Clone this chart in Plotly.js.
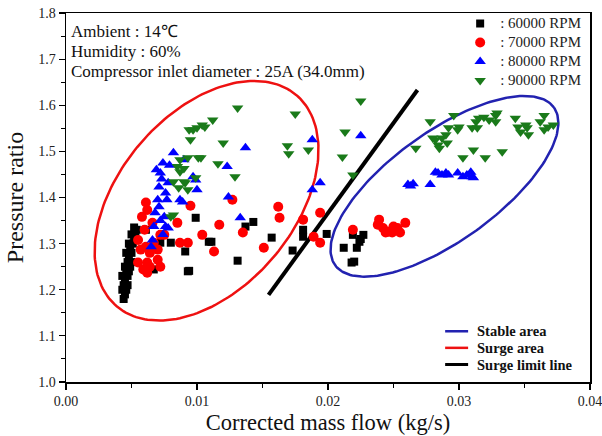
<!DOCTYPE html>
<html><head><meta charset="utf-8">
<script src="https://cdn.plot.ly/plotly-3.0.1.min.js"></script>
<style>body{margin:0;background:#fff}#chart{width:602px;height:436px}</style>
</head><body><div id="chart"></div>
<script>
// ---- data ----
const rpm60X = [0.0044,0.0045,0.0043,0.0046,0.0044,0.0047,0.0045,0.0043,0.0047,0.0046,0.0048,0.0045,0.0049,0.0047,0.0050,0.0048,0.0046,0.0050,0.0049,0.0051,0.0048,0.0052,0.0050,0.0053,0.0054,0.0052,0.0061,
  0.0072,0.0080,0.0091,0.0093,0.0067,0.0099,0.0109,0.0094,0.0111,0.0131,0.0137,0.0143,0.0157,0.0173,0.0181,0.0181,0.0199,
  0.0212,0.0219,0.0227,0.0224,0.0222,0.0220,0.0218,0.0225];
const rpm60Y = [1.18,1.19,1.20,1.20,1.21,1.21,1.22,1.23,1.23,1.24,1.24,1.25,1.25,1.26,1.26,1.27,1.28,1.28,1.29,1.30,1.30,1.31,1.32,1.32,1.33,1.335,1.33,
  1.302,1.302,1.283,1.240,1.244,1.356,1.304,1.241,1.304,1.263,1.337,1.347,1.313,1.285,1.330,1.315,1.321,
  1.291,1.319,1.319,1.304,1.291,1.261,1.259,1.310];
const rpm70X = [0.0061,0.0058,0.0062,0.0055,0.0057,0.0055,0.0059,0.0062,0.0064,0.0070,0.0070,0.0064,0.0072,0.0075,0.0067,0.0061,0.0062,0.0072,0.0060,0.0066,
  0.0085,0.0095,0.0087,0.0093,0.0104,0.0113,0.0117,0.0127,0.0135,0.0151,0.0162,0.0163,0.0181,0.0194,0.0189,0.0194,
  0.0219,0.0239,0.0238,0.0242,0.0246,0.0249,0.0253,0.0259,0.0255,0.0250,0.0244];
const rpm70Y = [1.389,1.358,1.373,1.308,1.287,1.259,1.244,1.237,1.250,1.287,1.265,1.280,1.319,1.319,1.302,1.293,1.259,1.250,1.330,1.345,
  1.345,1.382,1.302,1.302,1.319,1.283,1.341,1.395,1.324,1.291,1.380,1.356,1.352,1.367,1.315,1.302,
  1.330,1.352,1.341,1.334,1.326,1.324,1.334,1.345,1.324,1.337,1.324];
const rpm80X = [0.0082,0.0074,0.0072,0.0071,0.0070,0.0068,0.0067,0.0066,0.0065,0.0078,0.0077,0.0075,0.0076,0.0078,0.0069,0.0073,0.0071,0.0076,0.0074,0.0072,0.0079,
  0.0087,0.0090,0.0099,0.0100,0.0089,0.0137,0.0123,0.0097,0.0124,0.0133,0.0188,0.0194,0.0188,0.0225,
  0.0261,0.0263,0.0265,0.0278,0.0282,0.0284,0.0287,0.0290,0.0292,0.0299,0.0303,0.0306,0.0309,0.0310,0.0311];
const rpm80Y = [1.497,1.475,1.453,1.423,1.395,1.367,1.337,1.308,1.293,1.432,1.395,1.358,1.337,1.334,1.460,1.440,1.380,1.410,1.320,1.350,1.470,
  1.395,1.482,1.438,1.417,1.390,1.508,1.467,1.445,1.401,1.356,1.525,1.432,1.417,1.534,
  1.428,1.425,1.430,1.428,1.455,1.453,1.449,1.453,1.449,1.453,1.445,1.449,1.455,1.445,1.443];
const rpm90X = [0.0097,0.0100,0.0095,0.0104,0.0087,0.0093,0.0101,0.0085,0.0087,0.0090,0.0082,0.0090,0.0099,0.0086,0.0093,0.0080,0.0082,
  0.0131,0.0112,0.0106,0.0094,0.0120,0.0175,0.0169,0.0170,0.0185,0.0103,0.0116,0.0129,0.0091,0.0213,0.0211,0.0225,0.0219,
  0.0267,0.0278,0.0282,0.0284,0.0287,0.0290,0.0292,0.0296,0.0300,0.0299,0.0310,0.0313,0.0315,0.0319,0.0323,0.0329,0.0328,0.0314,
  0.0303,0.0311,0.0320,0.0333,0.0343,0.0345,0.0347,0.0352,0.0353,0.0362,0.0365,0.0365,0.0368,0.0372,0.0280,0.0285,0.0291,0.0328,0.0351];
const rpm90Y = [1.547,1.551,1.525,1.557,1.482,1.486,1.486,1.467,1.456,1.463,1.434,1.434,1.443,1.421,1.417,1.358,1.362,
  1.594,1.568,1.553,1.547,1.518,1.581,1.512,1.495,1.503,1.486,1.473,1.445,1.432,1.542,1.488,1.609,1.449,
  1.507,1.564,1.525,1.514,1.529,1.536,1.551,1.578,1.553,1.547,1.551,1.564,1.572,1.574,1.568,1.583,1.564,1.551,
  1.486,1.503,1.486,1.499,1.572,1.553,1.542,1.551,1.536,1.564,1.578,1.547,1.553,1.557,1.529,1.507,1.518,1.578,1.557];
const seriesNames = [": 60000 RPM", ": 70000 RPM", ": 80000 RPM", ": 90000 RPM"];
const surgeLineX = [0.01546, 0.02683];
const surgeLineY = [1.189, 1.633];
const areaNames = ["Stable area", "Surge area", "Surge limit line"];
const areaColors = ['#2222b0', '#ee1111', '#000000'];
const tickValsX = [0, 0.01, 0.02, 0.03, 0.04];
const tickTextX = ["0.00", "0.01", "0.02", "0.03", "0.04"];

// ---- layout geometry ----
const W = 602, H = 436, M = {l: 65.5, r: 12, t: 13, b: 53.5, autoexpand: false};
const xRange = [0, 0.04], yRange = [1.0, 1.8];
const plotW = W - M.l - M.r, plotH = H - M.t - M.b;
const ux = (xRange[1]-xRange[0]) / plotW, uy = (yRange[1]-yRange[0]) / plotH;
const paperX = px => (px - M.l) / plotW, paperY = py => (H - M.b - py) / plotH;

// ellipse outline (annotation shape), specified by centre in data units, semi-axes in pixels, tilt in degrees
function ellipse(cx, cy, a, b, deg) {
  const xs = [], ys = [], t = deg*Math.PI/180;
  for (let i = 0; i <= 200; i++) {
    const p = 2*Math.PI*i/200;
    const ex = a*Math.cos(p), ey = b*Math.sin(p);
    const px = ex*Math.cos(t) - ey*Math.sin(t);
    const py = ex*Math.sin(t) + ey*Math.cos(t);
    xs.push(cx + px*ux); ys.push(cy + py*uy);
  }
  return {x: xs, y: ys};
}
const stableE = ellipse(0.02889, 1.4243, 135, 54.5, 35.8);
const surgeE = ellipse(0.01073, 1.393, 138.8, 87.7, 49.6);

const serif = "Liberation Serif, Times New Roman, serif";
const big = (s, px) => '<span style="font-size:' + px + 'px">' + s + '</span>';
const mk = (x, y, name, sym, col, sz) => ({type: 'scatter', mode: 'markers', x, y, name: big(name, 15),
  marker: {symbol: sym, color: col, size: sz, line: {width: 0}}, legend: 'legend', showlegend: true});

const traces = [
  {type: 'scatter', mode: 'lines', x: stableE.x, y: stableE.y, name: areaNames[0], line: {color: areaColors[0], width: 2.5}, showlegend: false},
  {type: 'scatter', mode: 'lines', x: surgeE.x, y: surgeE.y, name: areaNames[1], line: {color: areaColors[1], width: 2.5}, showlegend: false},
  {type: 'scatter', mode: 'lines', x: surgeLineX, y: surgeLineY, name: areaNames[2], line: {color: areaColors[2], width: 4}, showlegend: false},
  mk(rpm60X, rpm60Y, seriesNames[0], 'square', '#000000', 8),
  mk(rpm70X, rpm70Y, seriesNames[1], 'circle', '#ff0000', 10),
  mk(rpm80X, rpm80Y, seriesNames[2], 'triangle-up', '#0000ff', 10),
  mk(rpm90X, rpm90Y, seriesNames[3], 'triangle-down', '#1a7a1a', 10)
];

// second key (area outlines), drawn as short line samples + bold labels
const keyRowsPx = [331.7, 348.3, 365];
const keyShapes = areaNames.map((n, i) => ({type: 'line', xref: 'paper', yref: 'paper',
  x0: paperX(445), x1: paperX(468), y0: paperY(keyRowsPx[i]), y1: paperY(keyRowsPx[i]),
  line: {color: areaColors[i], width: i === 2 ? 3 : 2.5}}));
const keyTexts = areaNames.map((n, i) => ({text: '<b>' + n + '</b>', xref: 'paper', yref: 'paper',
  x: paperX(475), y: paperY(keyRowsPx[i]), xanchor: 'left', yanchor: 'middle', showarrow: false,
  font: {family: serif, size: 14.5, color: '#111'}}));

const axisCommon = {showgrid: false, zeroline: false, showline: true, linecolor: '#000', linewidth: 1.5, mirror: true,
  ticks: 'outside', ticklen: 6, tickwidth: 1.2, tickcolor: '#000', ticklabeloverflow: 'allow',
  tickfont: {family: serif, size: 14, color: '#222'},
  minor: {ticks: 'outside', ticklen: 4, tickwidth: 1, tickcolor: '#000'}};

const txt = (t, yy) => ({text: t, x: 0.005, y: yy, xref: 'paper', yref: 'paper', xanchor: 'left', yanchor: 'middle',
  showarrow: false, font: {family: serif, size: 17, color: '#111'}});

const layout = {
  width: W, height: H, margin: M, paper_bgcolor: '#fff', plot_bgcolor: '#fff',
  font: {family: serif},
  xaxis: Object.assign({}, axisCommon, {range: xRange, tickvals: tickValsX, ticktext: tickTextX, automargin: false,
    minor: Object.assign({}, axisCommon.minor, {dtick: 0.005, tick0: 0}),
    title: {text: 'Corrected mass flow (kg/s)', font: {family: serif, size: 22.5, color: '#111'}, standoff: 6}}),
  yaxis: Object.assign({}, axisCommon, {range: yRange, dtick: 0.1, tickformat: '.1f', automargin: false,
    minor: Object.assign({}, axisCommon.minor, {dtick: 0.05, tick0: 1.0}),
    title: {text: 'Pressure ratio', font: {family: serif, size: 24, color: '#111'}, standoff: 8}}),
  legend: {x: 0.7522, y: 1.011, xanchor: 'left', yanchor: 'top', bgcolor: 'rgba(0,0,0,0)',
    font: {family: serif, size: 10.5, color: '#222'}, itemwidth: 30, tracegroupgap: 0},
  shapes: keyShapes,
  annotations: [
    txt('Ambient : 14℃', 0.9486),
    txt('Humidity : 60%', 0.8945),
    txt('Compressor inlet diameter : 25A (34.0mm)', 0.8403)
  ].concat(keyTexts)
};
Plotly.newPlot('chart', traces, layout, {displayModeBar: false, staticPlot: true});
</script></body></html>
